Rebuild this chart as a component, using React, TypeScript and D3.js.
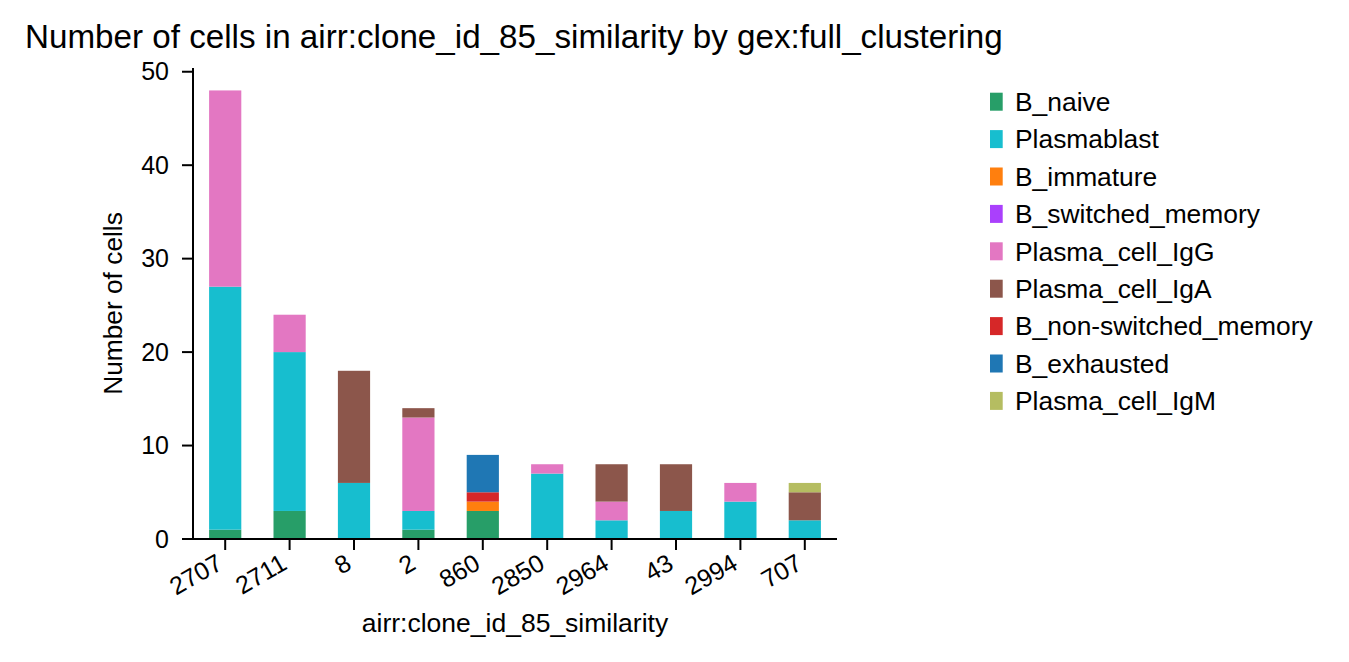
import React from "react";
import * as d3 from "d3";

const clones = ["2707", "2711", "8", "2", "860", "2850", "2964", "43", "2994", "707"];

const cellTypes = [
  "B_naive",
  "Plasmablast",
  "B_immature",
  "B_switched_memory",
  "Plasma_cell_IgG",
  "Plasma_cell_IgA",
  "B_non-switched_memory",
  "B_exhausted",
  "Plasma_cell_IgM",
];

const typeColors = [
  "#279e68",
  "#17becf",
  "#ff7f0e",
  "#aa40fc",
  "#e377c2",
  "#8c564b",
  "#d62728",
  "#1f77b4",
  "#b5bd61",
];

// counts per clone, one array per cell type (same order as clones)
const bNaive = [1, 3, 0, 1, 3, 0, 0, 0, 0, 0];
const plasmablast = [26, 17, 6, 2, 0, 7, 2, 3, 4, 2];
const bImmature = [0, 0, 0, 0, 1, 0, 0, 0, 0, 0];
const bSwitchedMemory = [0, 0, 0, 0, 0, 0, 0, 0, 0, 0];
const plasmaIgG = [21, 4, 0, 10, 0, 1, 2, 0, 2, 0];
const plasmaIgA = [0, 0, 12, 1, 0, 0, 4, 5, 0, 3];
const bNonSwitchedMemory = [0, 0, 0, 0, 1, 0, 0, 0, 0, 0];
const bExhausted = [0, 0, 0, 0, 4, 0, 0, 0, 0, 0];
const plasmaIgM = [0, 0, 0, 0, 0, 0, 0, 0, 0, 1];

const yTicks = [0, 10, 20, 30, 40, 50];

const seriesValues = [
  bNaive,
  plasmablast,
  bImmature,
  bSwitchedMemory,
  plasmaIgG,
  plasmaIgA,
  bNonSwitchedMemory,
  bExhausted,
  plasmaIgM,
];

const font = "'Liberation Sans', Arial, sans-serif";

export default function App() {
  const margin = { left: 193, right: 837, top: 68, bottom: 539 };

  const rows = clones.map((c, i) => {
    const row: Record<string, any> = { clone: c };
    cellTypes.forEach((t, j) => (row[t] = seriesValues[j][i]));
    return row;
  });
  const stacked = d3.stack<any>().keys(cellTypes)(rows);
  const maxTotal = d3.max(rows, r => d3.sum(cellTypes, t => r[t])) ?? 0;

  const x = d3.scaleBand<string>()
    .domain(clones)
    .range([margin.left, margin.right])
    .paddingInner(0.5)
    .paddingOuter(0.25);
  const y = d3.scaleLinear()
    .domain([0, maxTotal * 1.05])
    .range([margin.bottom, margin.top]);

  return (
    <svg width={1349} height={662} style={{ position: "absolute", left: 0, top: 0, fontFamily: font }}>
      <rect width={1349} height={662} fill="#fff" />
      <text x={25} y={48} fontSize={33.2} fill="#000">
        Number of cells in airr:clone_id_85_similarity by gex:full_clustering
      </text>

      {stacked.map((s, j) => (
        <g key={s.key} fill={typeColors[j]}>
          {s.map((d, i) =>
            d[1] - d[0] > 0 ? (
              <rect
                key={i}
                x={x(clones[i])}
                y={y(d[1])}
                width={x.bandwidth()}
                height={y(d[0]) - y(d[1])}
              />
            ) : null
          )}
        </g>
      ))}

      {/* y axis */}
      <line x1={margin.left} x2={margin.left} y1={margin.top} y2={margin.bottom + 1} stroke="#000" strokeWidth={2} />
      {yTicks.map(t => (
        <g key={t} transform={`translate(0,${y(t)})`}>
          <line x1={margin.left - 11} x2={margin.left} stroke="#000" strokeWidth={2} />
          <text x={169} dy="0.35em" textAnchor="end" fontSize={25}>{t}</text>
        </g>
      ))}
      <text transform={`translate(122,${(margin.top + margin.bottom) / 2}) rotate(-90)`} textAnchor="middle" fontSize={26.3}>
        Number of cells
      </text>

      {/* x axis */}
      <line x1={margin.left - 1} x2={margin.right} y1={margin.bottom} y2={margin.bottom} stroke="#000" strokeWidth={2} />
      {clones.map(c => {
        const cx = (x(c) ?? 0) + x.bandwidth() / 2;
        return (
          <g key={c}>
            <line x1={cx} x2={cx} y1={margin.bottom} y2={margin.bottom + 11} stroke="#000" strokeWidth={2} />
            <text transform={`translate(${cx - 1},${margin.bottom + 29}) rotate(-30)`} textAnchor="end" fontSize={25}>
              {c}
            </text>
          </g>
        );
      })}
      <text x={(margin.left + margin.right) / 2} y={632} textAnchor="middle" fontSize={26.5}>
        airr:clone_id_85_similarity
      </text>

      {/* legend */}
      {cellTypes.map((t, j) => {
        const cy = 101.7 + j * 37.4;
        return (
          <g key={t}>
            <rect x={990} y={cy - 9} width={12.7} height={18} fill={typeColors[j]} />
            <text x={1015} y={cy} dy="0.35em" fontSize={26.4}>{t}</text>
          </g>
        );
      })}
    </svg>
  );
}
